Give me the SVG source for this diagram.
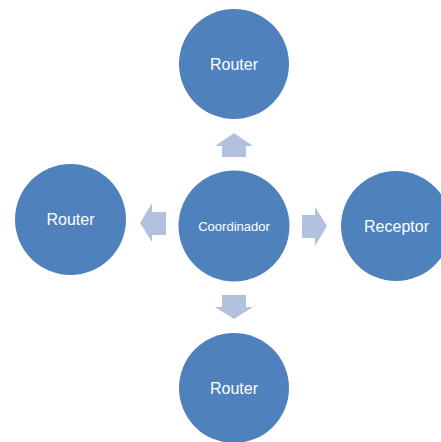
<svg xmlns="http://www.w3.org/2000/svg" width="441" height="442" viewBox="0 0 441 442">
<style>
.node circle{fill:#4F81BD;}
.node text{fill:#FFFFFF;font-family:"Liberation Sans",Arial,sans-serif;font-size:16px;text-anchor:middle;}
.node text.small{font-size:13px;}
.arrow{fill:#B2C2DE;}
</style>
<rect width="441" height="442" fill="#FFFFFF"/>
<g id="connectors">
<polygon class="arrow" points="234,133 253,146 246,146 246,157 222,157 222,146 215,146"/>
<polygon class="arrow" points="234,319 253,307 246,307 246,295 222,295 222,307 215,307"/>
<polygon class="arrow" points="140,223 152,203 152,212 166,212 166,235 152,235 152,242"/>
<polygon class="arrow" points="327,226 315,207 315,215 302,215 302,238 315,238 315,246"/>
</g>
<g id="router-top" class="node"><circle cx="234" cy="64" r="55"/><text x="234" y="69.5">Router</text></g>
<g id="coordinador" class="node"><circle cx="234" cy="226" r="55.5"/><text class="small" x="234" y="231">Coordinador</text></g>
<g id="router-left" class="node"><circle cx="70.5" cy="219.5" r="55.5"/><text x="70.5" y="225">Router</text></g>
<g id="receptor" class="node"><circle cx="396" cy="226" r="55"/><text x="396.5" y="231.5">Receptor</text></g>
<g id="router-bottom" class="node"><circle cx="234" cy="388" r="55"/><text x="234" y="393.5">Router</text></g>
</svg>
